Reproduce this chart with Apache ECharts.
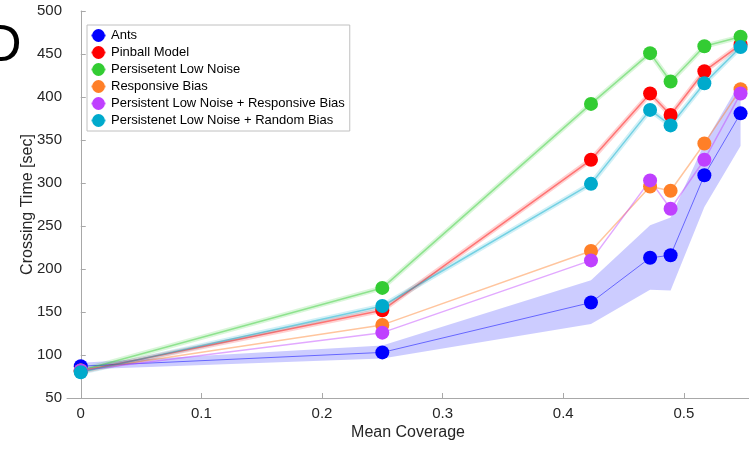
<!DOCTYPE html>
<html>
<head>
<meta charset="utf-8">
<title>Crossing Time vs Mean Coverage</title>
<script src="https://cdn.jsdelivr.net/npm/echarts@6/dist/echarts.min.js"></script>
<style>
    html, body { margin: 0; padding: 0; background: #fff; }
    #chart { width: 749px; height: 461px; }
</style>
</head>
<body>
<div id="chart"></div>
<script>
// 数据
const coverage = [0, 0.25, 0.423, 0.472, 0.489, 0.517, 0.547];
const ants = [87, 103, 161, 213, 216, 309, 381];
const antsLow = [83, 96, 136, 176, 175, 272, 343];
const antsHigh = [91, 111, 187, 251, 260, 346, 418];
const pinball = [81, 152, 327, 404, 379, 430, 461];
const persistLowNoise = [82, 178, 392, 451, 418, 459, 470];
const responsiveBias = [82, 135, 221, 296, 291, 346, 409];
const persistResponsive = [82, 126, 210, 303, 270, 327, 404];
const persistRandom = [80, 157, 299, 385, 367, 416, 458];
const xTicks = [0, 0.1, 0.2, 0.3, 0.4, 0.5];

const FONT = 'Liberation Sans, Arial, sans-serif';
const TEXT = '#262626';
const AXIS = '#a8a8a8';

const pairs = (ys) => coverage.map((x, i) => [x, ys[i]]);

// 带阴影的折线 (模型)
function modelSeries(name, color, values, withBand) {
    const out = [];
    if (withBand) {
        out.push({
            name: name + ' band',
            type: 'line',
            data: pairs(values),
            symbol: 'none',
            silent: true,
            lineStyle: { color: color, width: 5, opacity: 0.18 },
            z: 2
        });
    }
    out.push({
        name: name,
        type: 'line',
        data: pairs(values),
        symbol: 'circle',
        symbolSize: 14,
        itemStyle: { color: color },
        lineStyle: { color: color, width: 1.5, opacity: 0.45 },
        z: 3
    });
    return out;
}

const chart = echarts.init(document.getElementById('chart'));

const option = {
    animation: false,
    textStyle: { fontFamily: FONT },
    grid: { left: 67, top: 11, right: 0, bottom: 63, containLabel: false },
    graphic: [{
        type: 'text',
        left: -16,
        top: 21,
        style: { text: 'D', font: '52px ' + FONT, fill: '#000' }
    }],
    legend: {
        orient: 'vertical',
        left: 87,
        top: 25,
        padding: [4, 5, 4, 3],
        itemGap: 4,
        itemWidth: 15,
        itemHeight: 16,
        borderColor: '#c0c0c0',
        borderWidth: 1,
        backgroundColor: '#fff',
        textStyle: { fontSize: 13, color: '#000', fontFamily: FONT },
        data: ['Ants', 'Pinball Model', 'Persisetent Low Noise', 'Responsive Bias',
            'Persistent Low Noise + Responsive Bias', 'Persistenet Low Noise + Random Bias']
    },
    xAxis: {
        type: 'value',
        min: -0.0114,
        max: 0.554,
        name: 'Mean Coverage',
        nameLocation: 'middle',
        nameGap: 27,
        nameMoveOverlap: false,
        nameTextStyle: { fontSize: 16, color: TEXT },
        axisLine: { show: true, lineStyle: { color: AXIS } },
        axisTick: { show: true, inside: true, length: 5, customValues: xTicks, lineStyle: { color: AXIS } },
        axisLabel: { customValues: xTicks, fontSize: 15, color: TEXT, margin: 8,
            formatter: v => String(Math.round(v * 10) / 10) },
        splitLine: { show: false }
    },
    yAxis: {
        type: 'value',
        min: 50,
        max: 500,
        interval: 50,
        name: 'Crossing Time [sec]',
        nameLocation: 'middle',
        nameGap: 31,
        nameMoveOverlap: false,
        nameTextStyle: { fontSize: 16, color: TEXT },
        axisLine: { show: true, lineStyle: { color: AXIS } },
        axisTick: { show: true, inside: true, length: 5, lineStyle: { color: AXIS } },
        axisLabel: { fontSize: 15, color: TEXT, margin: 5 },
        splitLine: { show: false }
    },
    series: [
        {
            name: 'Ants band',
            type: 'custom',
            silent: true,
            data: coverage.map((x, i) => [x, antsLow[i], antsHigh[i]]),
            encode: { x: 0, y: [1, 2] },
            renderItem: (params, api) => {
                if (params.dataIndex !== 0) return null;
                const upper = coverage.map((x, i) => api.coord([x, antsHigh[i]]));
                const lower = coverage.map((x, i) => api.coord([x, antsLow[i]])).reverse();
                return {
                    type: 'polygon',
                    shape: { points: upper.concat(lower) },
                    style: { fill: 'rgba(0,0,255,0.2)' }
                };
            },
            z: 1
        },
        {
            name: 'Ants',
            type: 'line',
            data: pairs(ants),
            symbol: 'circle',
            symbolSize: 14,
            itemStyle: { color: '#0000ff' },
            lineStyle: { color: '#0000ff', width: 1, opacity: 0.5 },
            z: 3
        },
        ...modelSeries('Pinball Model', '#ff0000', pinball, true),
        ...modelSeries('Persisetent Low Noise', '#33cc33', persistLowNoise, true),
        ...modelSeries('Responsive Bias', '#ff7f27', responsiveBias, false),
        ...modelSeries('Persistent Low Noise + Responsive Bias', '#bf40ff', persistResponsive, false),
        ...modelSeries('Persistenet Low Noise + Random Bias', '#00aacc', persistRandom, true)
    ]
};

chart.setOption(option);
</script>
</body>
</html>
